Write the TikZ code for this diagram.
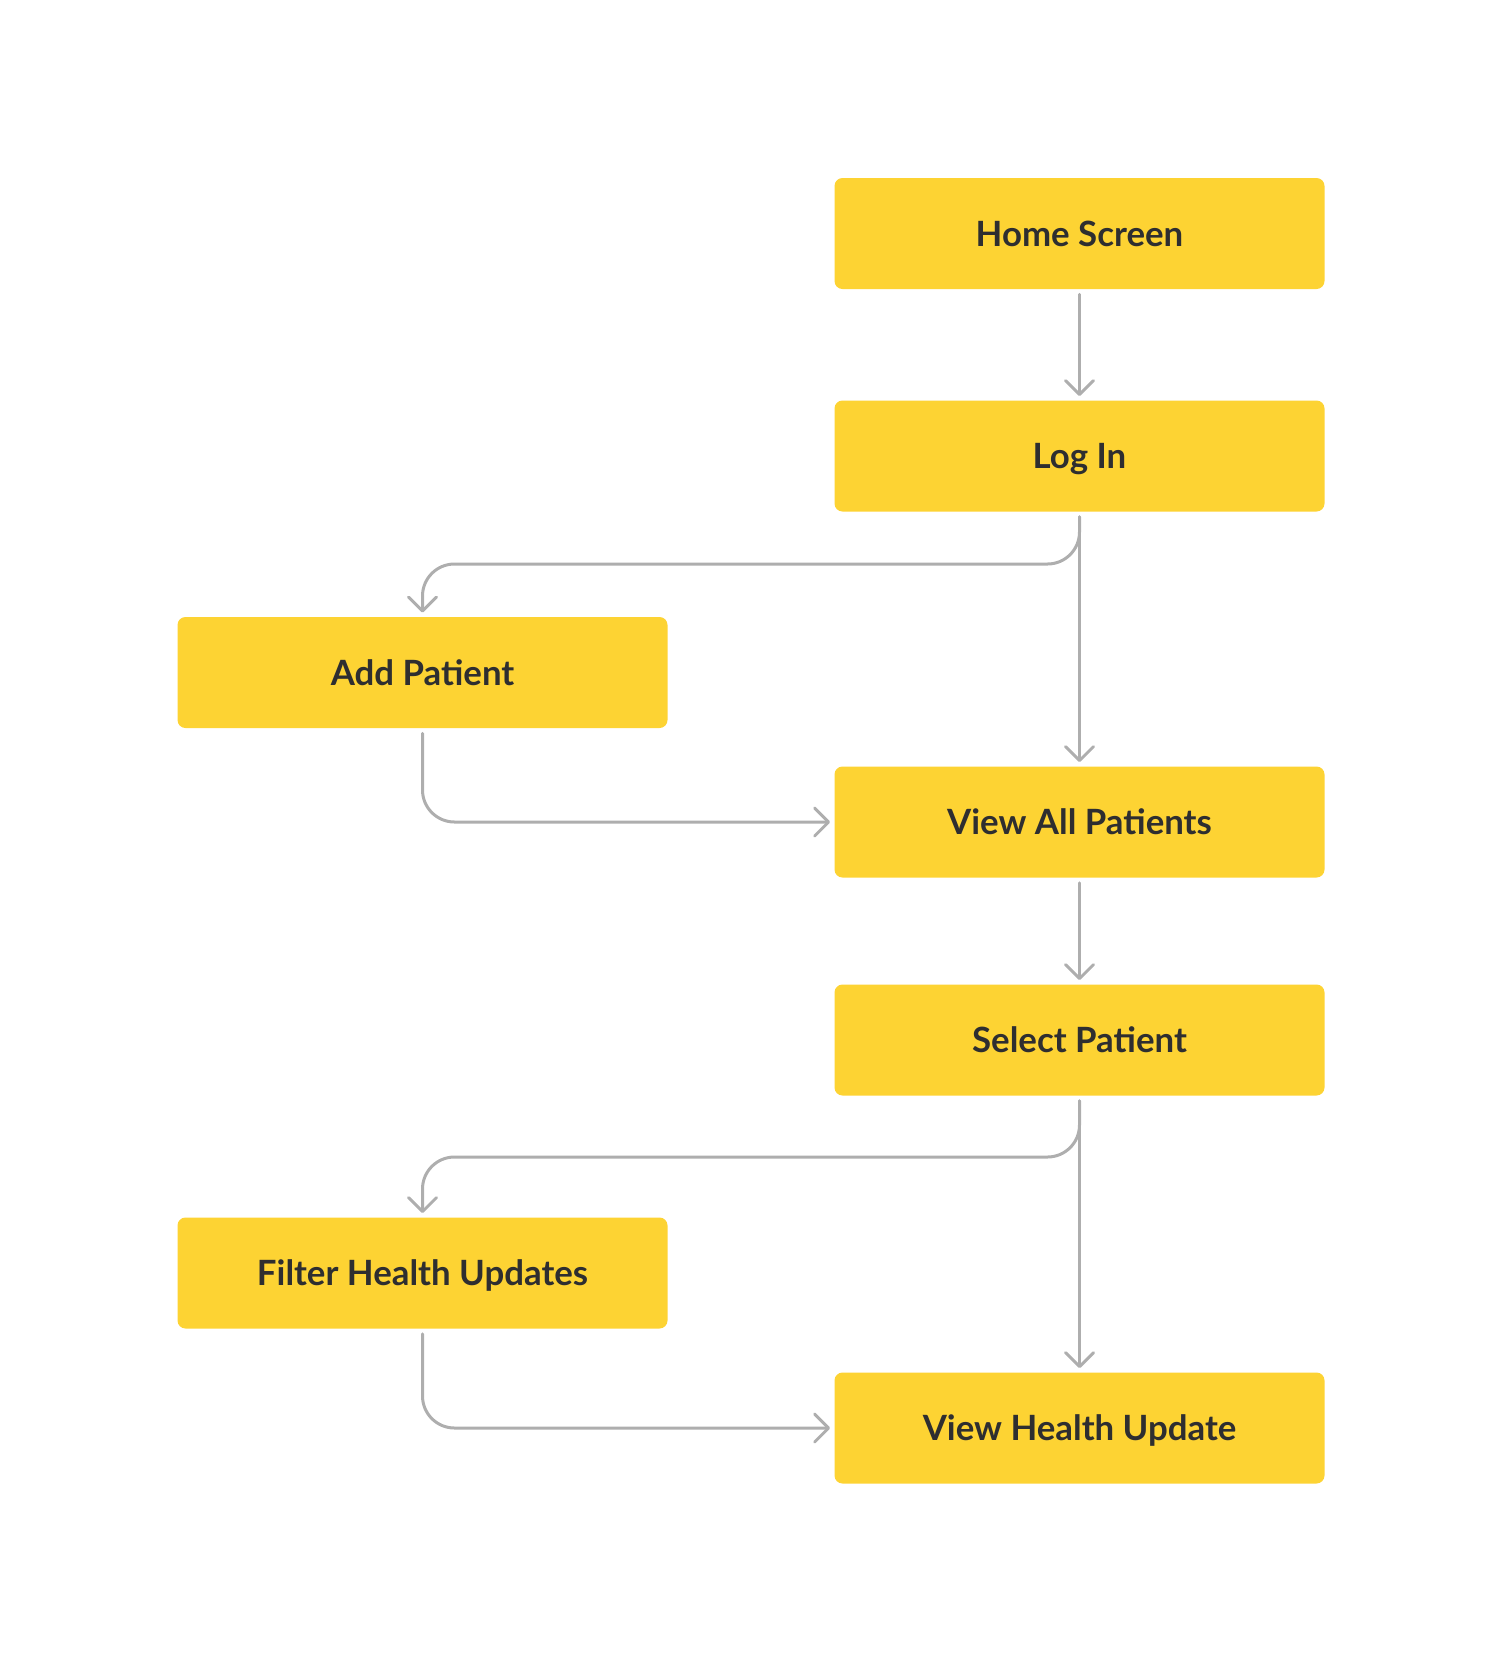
\documentclass[tikz,border=0pt]{standalone}
\usepackage{fontspec}
\setmainfont{Lato}
\usetikzlibrary{arrows.meta}
\definecolor{boxfill}{HTML}{FDD333}
\definecolor{boxtext}{HTML}{2E2E30}
\definecolor{linegray}{HTML}{AEAEAE}
\begin{document}
\begin{tikzpicture}[x=0.5pt,y=-0.5pt,
  stepbox/.style={rectangle, rounded corners=4pt, fill=boxfill, draw=none,
    minimum width=245pt, minimum height=55.5pt, inner sep=0pt,
    text height=12.5pt, text depth=0pt,
    text=boxtext, font=\fontsize{17.4}{20}\selectfont\bfseries},
  conn/.style={draw=linegray, line width=1.5pt, line cap=round, line join=round,
    rounded corners=16pt, shorten <=2.5pt, shorten >=2pt,
    -{Straight Barb[length=7pt,width=14pt,line cap=round,line join=round]}}]
\useasboundingbox (0,0) rectangle (1501,1661);
\node[stepbox] (home) at (1079.5,233.5) {Home Screen};
\node[stepbox] (login) at (1079.5,456) {Log In};
\node[stepbox] (add) at (422.5,672.5) {Add Patient};
\node[stepbox] (viewall) at (1079.5,822) {View All Patients};
\node[stepbox] (select) at (1079.5,1040) {Select Patient};
\node[stepbox] (filter) at (422.5,1273) {Filter Health Updates};
\node[stepbox] (viewhu) at (1079.5,1428) {View Health Update};
\coordinate (b1) at (0,564);
\coordinate (b2) at (0,1157);
\draw[conn] (home.south) -- (login.north);
\draw[conn] (login.south) -- (viewall.north);
\draw[conn] (login.south) -- (login.south |- b1) -- (add.north |- b1) -- (add.north);
\draw[conn] (add.south) |- (viewall.west);
\draw[conn] (viewall.south) -- (select.north);
\draw[conn] (select.south) -- (viewhu.north);
\draw[conn] (select.south) -- (select.south |- b2) -- (filter.north |- b2) -- (filter.north);
\draw[conn] (filter.south) |- (viewhu.west);
\end{tikzpicture}
\end{document}
